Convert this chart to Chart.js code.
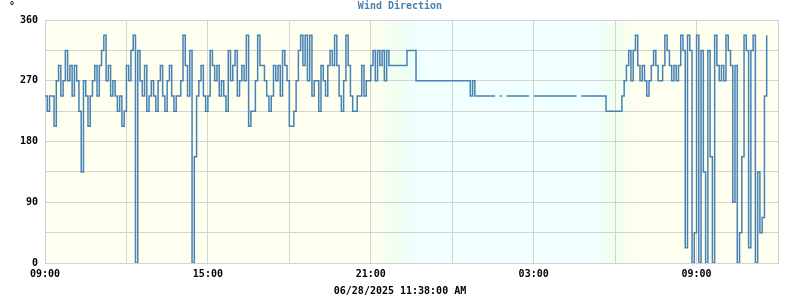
<!DOCTYPE html>
<html>
<head>
<meta charset="utf-8">
<title>Wind Direction</title>
<script src="https://cdn.jsdelivr.net/npm/chart.js@4.4.1/dist/chart.umd.min.js"></script>
<style>
  html, body { margin: 0; padding: 0; background: #ffffff; }
  canvas { display: block; }
</style>
</head>
<body>
<canvas id="windChart" width="800" height="300"></canvas>
<script>
// wind direction (degrees), one reading every 5 minutes starting 09:00
const STEP_HOURS = 5 / 60;

// 09:00 -> 21:40, gusty afternoon
const dayDir = [
  247.5, 225, 247.5, 247.5, 202.5, 270, 292.5, 247.5, 270, 315, 270, 292.5,
  247.5, 292.5, 270, 225, 135, 270, 247.5, 202.5, 247.5, 270, 292.5, 247.5,
  292.5, 315, 337.5, 270, 292.5, 247.5, 270, 247.5, 225, 247.5, 202.5, 225,
  292.5, 270, 315, 337.5, 0, 315, 270, 247.5, 292.5, 225, 247.5, 270,
  247.5, 225, 270, 292.5, 247.5, 225, 270, 292.5, 247.5, 225, 247.5, 247.5,
  270, 337.5, 292.5, 247.5, 315, 0, 157.5, 247.5, 270, 292.5, 247.5, 225,
  247.5, 315, 292.5, 270, 292.5, 247.5, 270, 247.5, 225, 315, 270, 292.5,
  315, 247.5, 270, 292.5, 270, 337.5, 202.5, 225, 225, 270, 337.5, 292.5,
  292.5, 270, 247.5, 225, 247.5, 292.5, 270, 292.5, 247.5, 315, 292.5, 270,
  202.5, 202.5, 225, 270, 315, 337.5, 292.5, 337.5, 270, 337.5, 247.5, 270,
  270, 225, 292.5, 270, 247.5, 292.5, 315, 292.5, 337.5, 292.5, 247.5, 225,
  270, 337.5, 292.5, 247.5, 225, 225, 247.5, 247.5, 292.5, 247.5, 270, 270,
  292.5, 315, 270, 315, 292.5, 315, 270, 315
];

// 21:40 -> 05:35, calm night (null = missing reading)
const nightDir = [
  292.5, 292.5, 292.5, 292.5, 292.5, 292.5, 292.5, 292.5,
  315, 315, 315, 315,
  270, 270, 270, 270, 270, 270, 270, 270, 270, 270, 270, 270,
  270, 270, 270, 270, 270, 270, 270, 270, 270, 270, 270, 270,
  247.5, 270,
  247.5, 247.5, 247.5, 247.5, 247.5, 247.5, 247.5, 247.5, 247.5, 247.5,
  null, 247.5, 247.5, null, 247.5, 247.5, 247.5, 247.5, 247.5, 247.5,
  247.5, 247.5, 247.5, 247.5, 247.5, null, 247.5, 247.5, 247.5, 247.5,
  247.5, 247.5, 247.5, 247.5, 247.5, 247.5, 247.5, 247.5, 247.5, 247.5,
  247.5, 247.5, 247.5, 247.5, 247.5, 247.5, null, 247.5, 247.5, 247.5,
  247.5, 247.5, 247.5, 247.5, 247.5, 247.5, 247.5, 247.5
];

// 05:40 -> 11:35, morning, swinging through north
const morningDir = [
  225, 225, 225, 225, 225, 225, 225,
  247.5, 270, 292.5, 315, 270, 315, 337.5, 292.5, 270, 292.5,
  270, 247.5, 270, 292.5, 315, 292.5, 270, 270, 292.5, 337.5,
  315, 292.5, 270, 292.5, 270, 292.5, 337.5, 315, 22.5, 337.5,
  315, 0, 45, 337.5, 0, 315, 135, 0, 315, 157.5,
  0, 337.5, 292.5, 270, 292.5, 270, 337.5, 315, 292.5, 90,
  292.5, 0, 45, 157.5, 337.5, 315, 22.5, 315, 337.5, 0,
  135, 45, 67.5, 247.5, 337.5
];

const windDir = dayDir.concat(nightDir, morningDir);

// axis ticks
const xTickHours = [0, 6, 12, 18, 24];
const xTickLabels = ['09:00', '15:00', '21:00', '03:00', '09:00'];
const yTickLabels = [0, 90, 180, 270, 360];

// dusk / dawn shading (hours after 09:00)
const DUSK = [12.0, 12.9, 13.8];
const DAWN = [20.2, 21.0, 21.9];

const points = windDir.map((v, i) => ({ x: i * STEP_HOURS, y: v }));

const monoFont = "'DejaVu Sans Mono', 'Liberation Mono', monospace";

// paints the day / night background behind the plot
const dayNight = {
  id: 'dayNight',
  beforeDraw(chart) {
    const { ctx, chartArea: a, scales } = chart;
    const x = scales.x;
    const pos = h => Math.min(1, Math.max(0, (x.getPixelForValue(h) - a.left) / (a.right - a.left)));
    const g = ctx.createLinearGradient(a.left, 0, a.right, 0);
    g.addColorStop(0, '#fffff0');
    g.addColorStop(pos(DUSK[0]), '#fffff0');
    g.addColorStop(pos(DUSK[1]), '#f0fff0');
    g.addColorStop(pos(DUSK[2]), '#f0ffff');
    g.addColorStop(pos(DAWN[0]), '#f0ffff');
    g.addColorStop(pos(DAWN[1]), '#f0fff0');
    g.addColorStop(pos(DAWN[2]), '#fffff0');
    g.addColorStop(1, '#fffff0');
    ctx.save();
    ctx.fillStyle = g;
    ctx.fillRect(a.left, a.top, a.right - a.left, a.bottom - a.top);
    ctx.restore();
  },
  afterDraw(chart) {
    // unit mark in the corner
    const ctx = chart.ctx;
    ctx.save();
    ctx.fillStyle = '#000000';
    ctx.font = 'bold 10px ' + monoFont;
    ctx.textAlign = 'center';
    ctx.textBaseline = 'middle';
    ctx.fillText('°', 12, 6);
    ctx.restore();
  }
};

new Chart(document.getElementById('windChart'), {
  type: 'line',
  data: {
    datasets: [{
      label: 'Wind Direction',
      data: points,
      borderColor: '#4682b4',
      borderWidth: 1.5,
      pointRadius: 0,
      stepped: true,
      spanGaps: false,
      fill: false
    }]
  },
  options: {
    responsive: false,
    devicePixelRatio: 1,
    animation: false,
    layout: { padding: 0 },
    plugins: {
      legend: { display: false },
      tooltip: { enabled: false },
      title: {
        display: true,
        text: 'Wind Direction',
        color: '#4682b4',
        font: { family: monoFont, size: 10, weight: 'bold', lineHeight: 1.2 },
        padding: { top: 0, bottom: 8 }
      },
      subtitle: {
        display: true,
        position: 'bottom',
        text: '06/28/2025 11:38:00 AM',
        color: '#000000',
        font: { family: monoFont, size: 10, weight: 'bold', lineHeight: 1.2 },
        padding: { top: 4, bottom: 3 }
      }
    },
    scales: {
      x: {
        type: 'linear',
        min: 0,
        max: 27,
        afterFit: s => { s.height = 18; },
        grid: { color: '#d3d3d3', drawTicks: false },
        border: { color: '#d3d3d3' },
        ticks: {
          stepSize: 3,
          autoSkip: false,
          maxRotation: 0,
          padding: 5,
          color: '#000000',
          font: { family: monoFont, size: 10, weight: 'bold' },
          callback: v => {
            const k = xTickHours.indexOf(v);
            return k >= 0 ? xTickLabels[k] : '';
          }
        }
      },
      y: {
        min: 0,
        max: 360,
        afterFit: s => { s.width = 45; },
        grid: { color: '#d3d3d3', drawTicks: false },
        border: { color: '#d3d3d3' },
        ticks: {
          stepSize: 45,
          padding: 7,
          color: '#000000',
          font: { family: monoFont, size: 10, weight: 'bold' },
          callback: v => yTickLabels.includes(v) ? String(v) : ''
        }
      },
      // empty right-hand margin so titles stay centred on the page
      yRight: {
        position: 'right',
        min: 0,
        max: 360,
        afterFit: s => { s.width = 22; },
        grid: { display: false, drawOnChartArea: false },
        border: { display: false },
        ticks: { display: false }
      }
    }
  },
  plugins: [dayNight]
});
</script>
</body>
</html>
